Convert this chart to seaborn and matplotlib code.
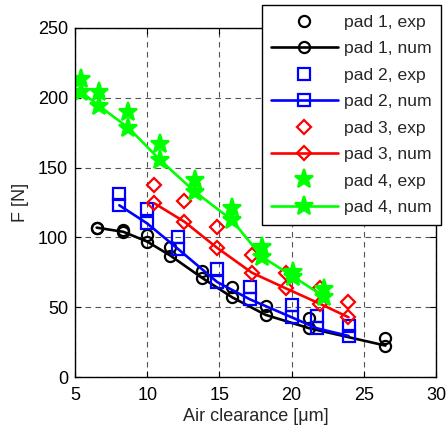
import matplotlib
matplotlib.use("Agg")
import matplotlib.pyplot as plt
import seaborn as sns

# air clearance [um] and force [N]
pad1_x = [6.5, 8.35, 10.0, 11.6, 13.8, 15.9, 18.2, 21.2, 26.5]
pad1_exp = [107, 105, 102, 93, 76, 64.5, 51, 42, 28]
pad1_num = [107, 104, 97, 87, 71, 57, 44.5, 35, 22.5]

pad2_x = [8.07, 10.0, 12.16, 14.85, 17.1, 20.0, 21.75, 23.95]
pad2_exp = [131, 120, 100.5, 77.5, 64.7, 51.6, 43.7, 36.5]
pad2_num = [123, 110, 91.5, 68, 55.7, 42.8, 34.9, 29.4]

pad3_x = [10.5, 12.58, 14.82, 17.25, 19.6, 22.0, 23.94]
pad3_exp = [137.5, 126.3, 107.2, 87.4, 74.3, 63.5, 53.9]
pad3_num = [124.4, 111.2, 92.7, 74.7, 63.5, 52.3, 42.8]

pad4_x = [5.4, 6.68, 8.7, 10.9, 13.3, 15.86, 17.93, 20.13, 22.26]
pad4_exp = [213.3, 204.4, 190, 167, 141, 120.8, 93.3, 75.4, 62.8]
pad4_num = [204.4, 194.1, 178.5, 155.4, 132.7, 112.5, 86.2, 71.8, 57.5]

pads = [
    ("pad 1", pad1_x, pad1_exp, pad1_num, "black", "o", 8),
    ("pad 2", pad2_x, pad2_exp, pad2_num, "blue", "s", 8),
    ("pad 3", pad3_x, pad3_exp, pad3_num, "red", "D", 7),
    ("pad 4", pad4_x, pad4_exp, pad4_num, "#00ff00", "*", 14),
]

sns.set_style("ticks")
plt.rcParams['font.family'] = ['Liberation Sans', 'DejaVu Sans']

fig = plt.figure(figsize=(4.46, 4.32), dpi=100)
ax = fig.add_axes([75 / 446, 1 - 377 / 432, 361 / 446, 349 / 432])

handles = []
for name, x, exp, num, col, mk, ms in pads:
    face = col if mk == "*" else "none"
    sns.lineplot(x=x, y=exp, ax=ax, sort=False, errorbar=None, linestyle="None",
                 marker=mk, markersize=ms, markerfacecolor=face, markeredgecolor=col,
                 markeredgewidth=1.6, color=col)
    h_exp = ax.get_lines()[-1]
    h_exp.set_label(name + ", exp")
    sns.lineplot(x=x, y=num, ax=ax, sort=False, errorbar=None, linewidth=1.9,
                 marker=mk, markersize=ms, markerfacecolor=face, markeredgecolor=col,
                 markeredgewidth=1.6, color=col)
    h_num = ax.get_lines()[-1]
    h_num.set_label(name + ", num")
    handles += [h_exp, h_num]

ax.set_xlim(5, 30)
ax.set_ylim(0, 250)
ax.set_xticks([5, 10, 15, 20, 25, 30])
ax.set_yticks([0, 50, 100, 150, 200, 250])
ax.grid(True, color="#555555", linestyle=(0, (5, 4)), linewidth=0.8)
ax.tick_params(direction="in", length=4, labelsize=13, top=True, right=True,
               colors="black")
ax.tick_params(axis="x", pad=7)
ax.tick_params(axis="y", pad=5)
for s in ax.spines.values():
    s.set_linewidth(1.0)
    s.set_color("black")

ax.set_xlabel("Air clearance [\u03bcm]", fontsize=13, labelpad=3)
ax.set_ylabel("F [N]", fontsize=13, labelpad=6)

leg = ax.legend(handles=handles, loc="upper right",
                bbox_to_anchor=(441 / 446, 1 - 5 / 432), bbox_transform=fig.transFigure,
                fontsize=12.6, frameon=True, fancybox=False, framealpha=1,
                edgecolor="black", handlelength=3.8, handletextpad=0.35,
                labelspacing=0.64, borderpad=0.55, borderaxespad=0)
leg.get_frame().set_linewidth(1.0)

plt.savefig("out.png", dpi=100)
